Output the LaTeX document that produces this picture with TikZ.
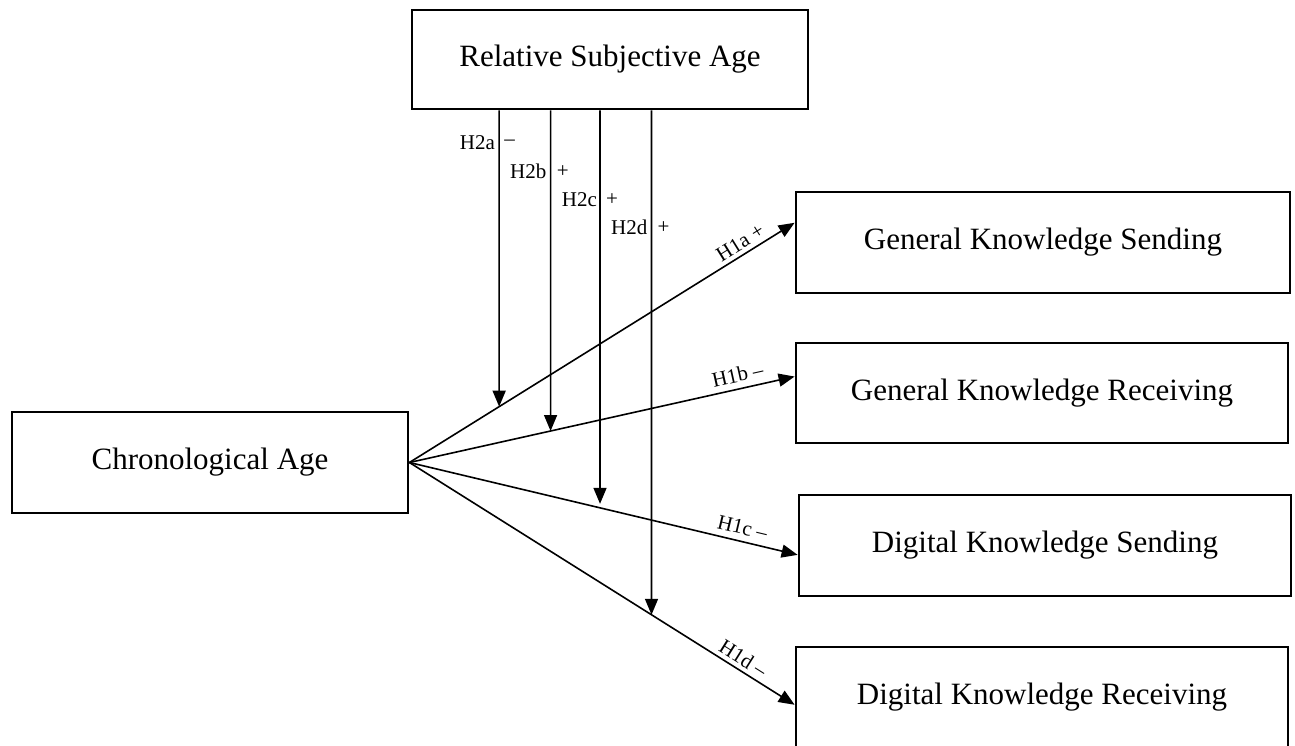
\documentclass[tikz,border=0pt]{standalone}
\usepackage{fontspec}
\setmainfont{Liberation Serif}
\usetikzlibrary{arrows.meta,calc}
\begin{document}
\begin{tikzpicture}[x=1pt,y=-1pt,
  box/.style={draw, line width=2.8pt, inner sep=0pt, font=\fontsize{31}{36}\selectfont},
  lab/.style={font=\fontsize{21}{24}\selectfont, inner sep=1pt},
  arr/.style={line width=1.6pt, -{Triangle[length=16pt,width=13pt]}}]
\useasboundingbox (0,0) rectangle (1295,746);
\clip (0,0) rectangle (1295,746);
\node[box, minimum width=396pt, minimum height=99pt] (RSA) at (610,59.5) {Relative Subjective Age};
\node[box, minimum width=396pt, minimum height=101pt] (CA) at (210,462.5) {Chronological Age};
\node[box, minimum width=494pt, minimum height=101pt] (GKS) at (1043,242.5) {General Knowledge Sending};
\node[box, minimum width=492pt, minimum height=100pt] (GKR) at (1042,393) {General Knowledge Receiving};
\node[box, minimum width=492pt, minimum height=101pt] (DKS) at (1045,545.5) {Digital Knowledge Sending};
\node[box, minimum width=492pt, minimum height=101pt] (DKR) at (1042,697.5) {Digital Knowledge Receiving};
\coordinate (c0) at (CA.east);
\coordinate (t1) at ($(GKS.north west)!0.31!(GKS.south west)$);
\coordinate (t2) at ($(GKR.north west)!0.34!(GKR.south west)$);
\coordinate (t3) at ($(DKS.north west)!0.59!(DKS.south west)$);
\coordinate (t4) at ($(DKR.north west)!0.57!(DKR.south west)$);
\draw[arr] (c0) -- node[lab, sloped, above=3pt, pos=0.875] {H1a +} (t1);
\draw[arr] (c0) -- node[lab, sloped, above=5pt, pos=0.86] {H1b –} (t2);
\draw[arr] (c0) -- node[lab, sloped, above=5pt, pos=0.85] {H1c –} (t3);
\draw[arr] (c0) -- node[lab, sloped, above=3pt, pos=0.85] {H1d –} (t4);
\coordinate (s1) at ($(RSA.south west)!0.222!(RSA.south east)$);
\coordinate (s2) at ($(RSA.south west)!0.351!(RSA.south east)$);
\coordinate (s3) at ($(RSA.south west)!0.475!(RSA.south east)$);
\coordinate (s4) at ($(RSA.south west)!0.604!(RSA.south east)$);
\coordinate (b1) at (s1 |- DKR.south);
\coordinate (b2) at (s2 |- DKR.south);
\coordinate (b3) at (s3 |- DKR.south);
\coordinate (b4) at (s4 |- DKR.south);
\coordinate (e1) at (intersection of s1--b1 and c0--t1);
\coordinate (e2) at (intersection of s2--b2 and c0--t2);
\coordinate (e3) at (intersection of s3--b3 and c0--t3);
\coordinate (e4) at (intersection of s4--b4 and c0--t4);
\draw[arr] (s1) -- (e1);
\draw[arr] (s2) -- (e2);
\draw[arr] (s3) -- ($(e3)+(0,-4)$);
\draw[arr] (s4) -- (e4);
\node[lab, anchor=east] (l1) at ($(s1)+(-3,32)$) {H2a};
\node[lab, anchor=west] (m1) at ($(s1)+(4,32)$) {–};
\node[lab, anchor=east] (l2) at ($(s2)+(-3,61)$) {H2b};
\node[lab, anchor=west] (m2) at ($(s2)+(5,61)$) {+};
\node[lab, anchor=east] (l3) at ($(s3)+(-2,89)$) {H2c};
\node[lab, anchor=west] (m3) at ($(s3)+(5,89)$) {+};
\node[lab, anchor=east] (l4) at ($(s4)+(-3,117)$) {H2d};
\node[lab, anchor=west] (m4) at ($(s4)+(5,117)$) {+};
\end{tikzpicture}
\end{document}
